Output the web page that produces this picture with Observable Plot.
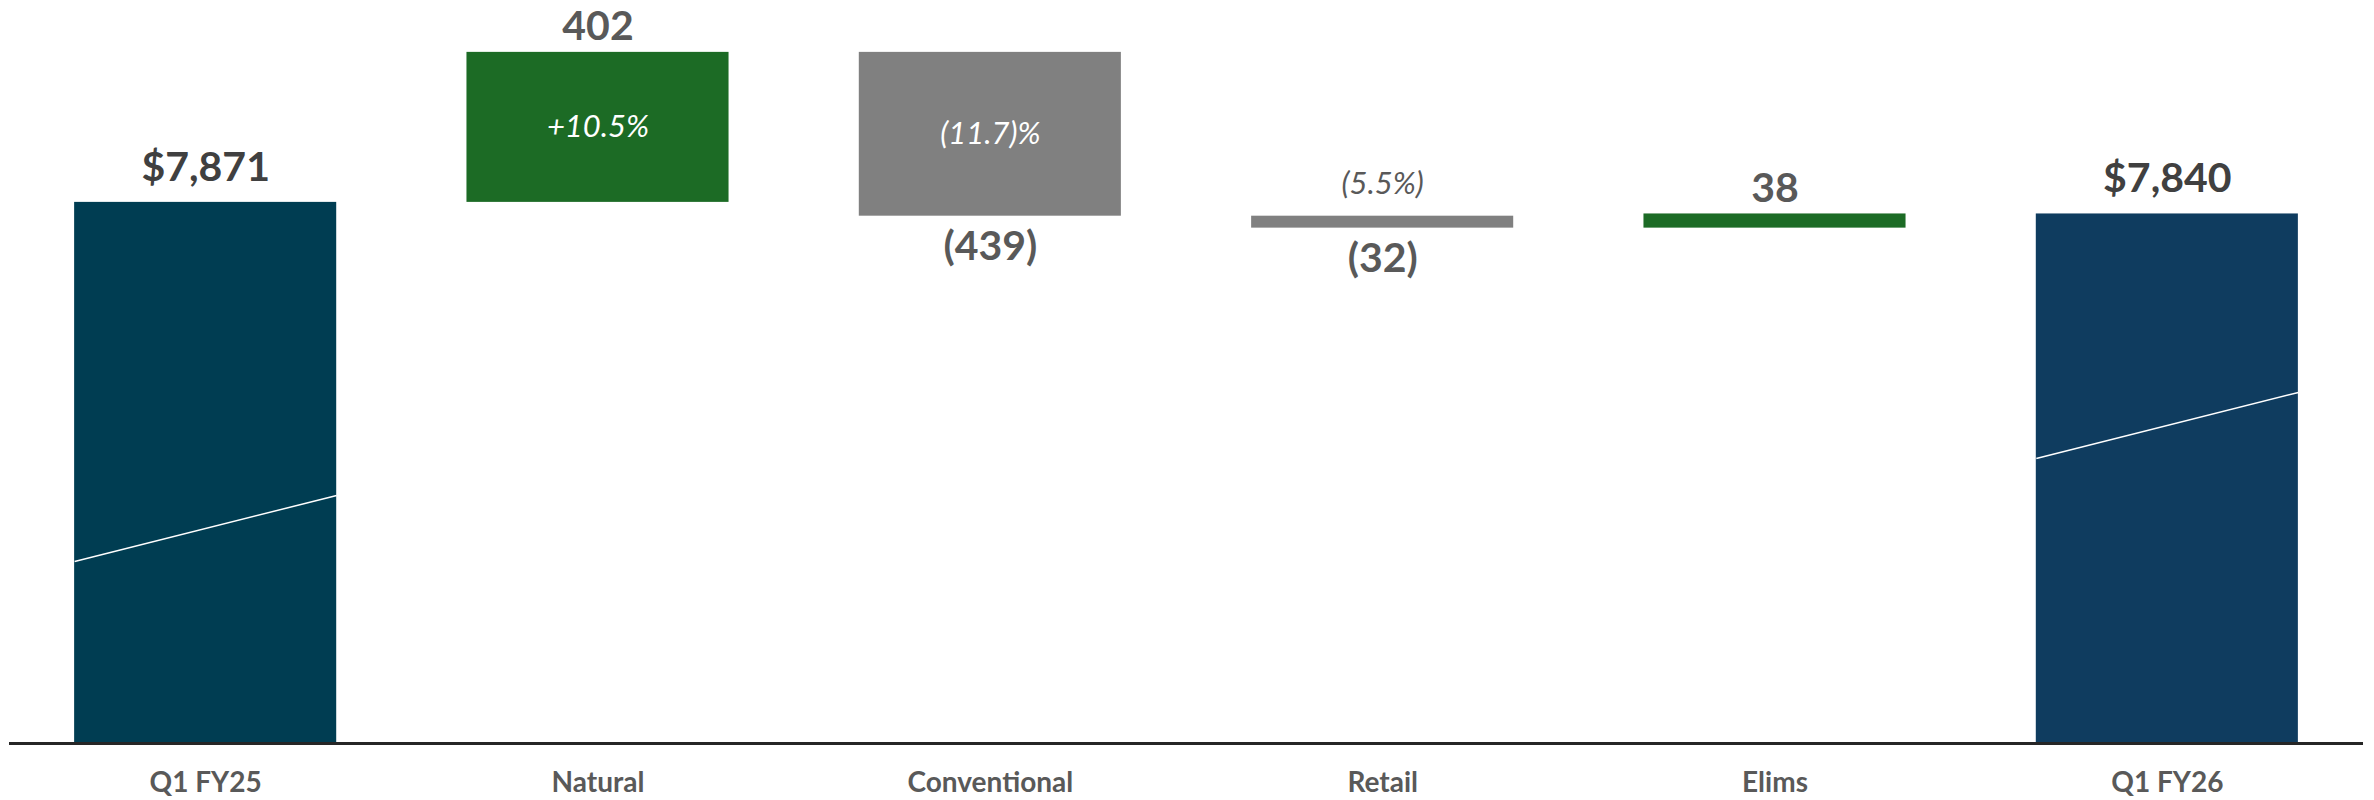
<!DOCTYPE html>
<html><head><meta charset="utf-8">
<script src="https://cdn.jsdelivr.net/npm/d3@7"></script>
<script src="https://cdn.jsdelivr.net/npm/@observablehq/plot@0.6"></script>
<style>
html,body{margin:0;padding:0;background:#fff;overflow:hidden;}
#chart svg{display:block;}
</style></head><body><div id="chart"></div>
<script>
// ---- data ----
const categories = ["Q1 FY25", "Natural", "Conventional", "Retail", "Elims", "Q1 FY26"];
const kinds = ["start", "increase", "decrease", "decrease", "increase", "end"];
const values = [7871, 402, -439, -32, 38, 7840];
const valueLabels = ["$7,871", "402", "(439)", "(32)", "38", "$7,840"];
const pctLabels = ["", "+10.5%", "(11.7)%", "(5.5%)", "", ""];
// axis-break slashes drawn across the two total bars (data units)
const breakBars = [0, 5];
const breakFrom = [3390, 5309];
const breakTo = [4620, 6539];

// ---- derived table ----
let run = 0;
const rows = categories.map((c, i) => {
  let y1, y2;
  if (kinds[i] === "start" || kinds[i] === "end") { y1 = 0; y2 = values[i]; }
  else { y1 = run; y2 = run + values[i]; }
  run = y2;
  return {i, category: c, kind: kinds[i], value: values[i], y1, y2,
          top: Math.max(y1, y2), bottom: Math.min(y1, y2), mid: (y1 + y2) / 2,
          label: valueLabels[i], pct: pctLabels[i]};
});
const breaks = breakBars.map((b, k) => ({i: b, from: breakFrom[k], to: breakTo[k]}));

// broken value axis: compressed below the break, expanded above it
const yBreak = 7500, lowK = 0.05368, highK = 0.3731;
const yBroken = v => v <= yBreak ? v * lowK : yBreak * lowK + (v - yBreak) * highK;

const colors = {start: "#003d52", end: "#0f3c5f", increase: "#1c6b25", decrease: "#808080"};
const hw = 0.334;
const totals = rows.filter(d => d.kind === "start" || d.kind === "end");
const ups = rows.filter(d => d.kind === "increase");
const downs = rows.filter(d => d.kind === "decrease");
const pctIn = rows.filter(d => d.pct && Math.abs(d.value) > 100);
const pctOut = rows.filter(d => d.pct && Math.abs(d.value) <= 100);

const chart = Plot.plot({
  width: 2374,
  height: 800,
  marginTop: 0,
  marginBottom: 57,
  marginLeft: 9,
  marginRight: 11,
  style: {fontFamily: "Lato", color: "#595959", background: "#fff"},
  x: {domain: [-0.5, 5.5], axis: null},
  y: {transform: yBroken, domain: [0, yBroken(8412)], axis: null},
  marks: [
    Plot.rectY(rows, {x1: d => d.i - hw, x2: d => d.i + hw, y1: "y1", y2: "y2", fill: d => colors[d.kind]}),
    Plot.link(breaks, {x1: d => d.i - hw, x2: d => d.i + hw, y1: "from", y2: "to", stroke: "#ffffff", strokeWidth: 1.5}),
    Plot.ruleY([0], {stroke: "#262626", strokeWidth: 3}),
    Plot.axisX({ticks: categories.map((_, i) => i), tickFormat: i => categories[i], tickSize: 0, tickPadding: 29,
      fontSize: 28, fontWeight: "bold", fontFamily: "Lato", label: null}),
    Plot.text(totals, {x: "i", y: "top", text: "label", dy: -21.5, lineAnchor: "bottom",
      fontSize: 41, fontWeight: "bold", fill: "#404040"}),
    Plot.text(ups, {x: "i", y: "top", text: "label", dy: -12, lineAnchor: "bottom",
      fontSize: 41, fontWeight: "bold", fill: "#595959"}),
    Plot.text(downs, {x: "i", y: "bottom", text: "label", dy: 15, lineAnchor: "top",
      fontSize: 41, fontWeight: "bold", fill: "#595959"}),
    Plot.text(pctIn, {x: "i", y: "mid", text: "pct", lineAnchor: "middle",
      fontSize: 31, fontStyle: "italic", fill: "#ffffff"}),
    Plot.text(pctOut, {x: "i", y: "top", text: "pct", dy: -22, lineAnchor: "bottom",
      fontSize: 31, fontStyle: "italic", fill: "#595959"})
  ]
});
document.getElementById("chart").appendChild(chart);
</script>
</body></html>
